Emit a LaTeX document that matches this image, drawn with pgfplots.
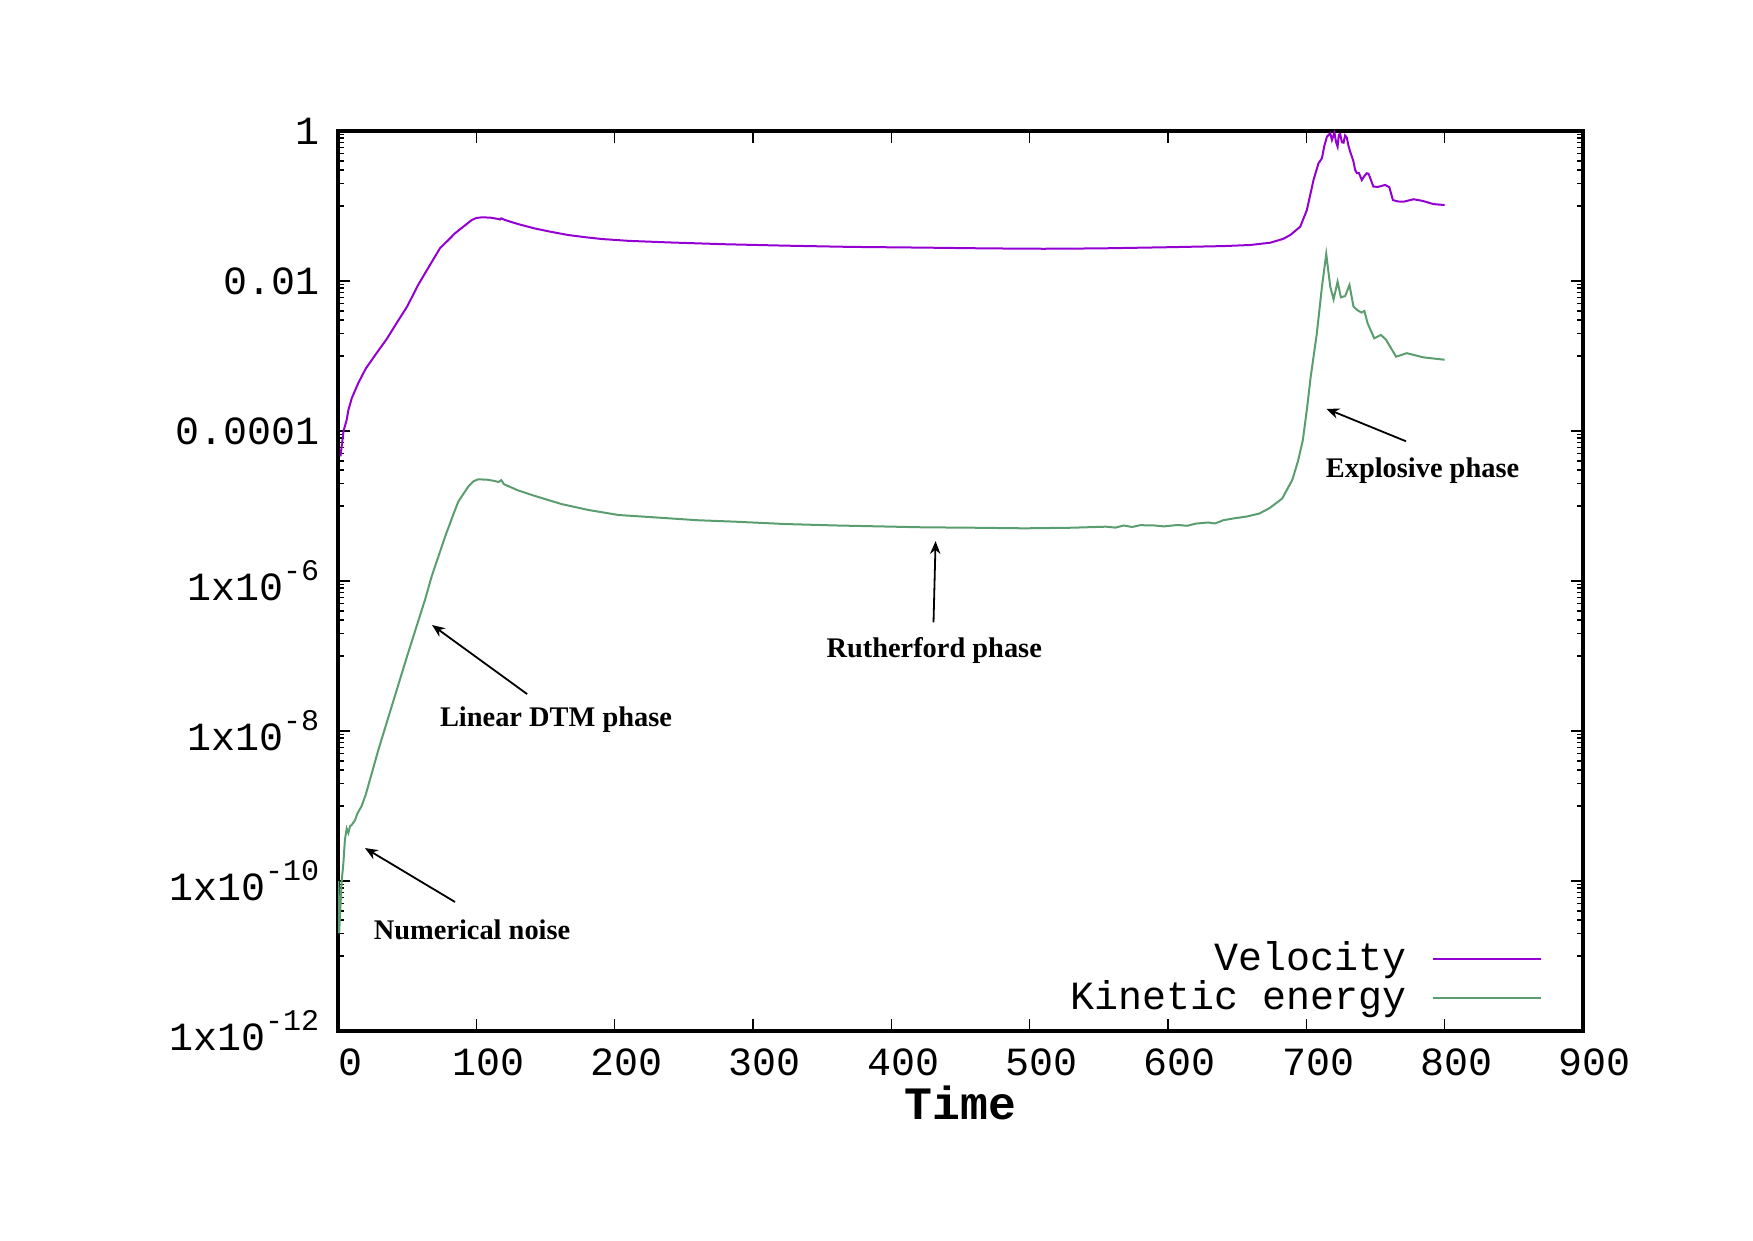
\documentclass[border=0pt]{standalone}
\usepackage{pgfplots}
\pgfplotsset{compat=1.18}
\usepackage{fontspec}
\setmainfont{Liberation Serif}
\newfontfamily\monofont{Liberation Mono}
\usetikzlibrary{arrows.meta}
\definecolor{velc}{HTML}{9400D3}
\definecolor{kinc}{HTML}{5A9E70}
\newcommand\ex[1]{\raisebox{5pt}{\fontsize{7.5}{7.5}\selectfont #1}}
\begin{document}
\begin{tikzpicture}
\useasboundingbox (0,0) rectangle (438.25pt,310pt);
\begin{axis}[
  at={(84.5pt,52.25pt)}, anchor=south west,
  scale only axis, width=311.25pt, height=225pt,
  xmin=0, xmax=900, ymode=log, ymin=1e-12, ymax=1,
  xtick={0,100,200,300,400,500,600,700,800,900},
  xticklabels={0,100,200,300,400,500,600,700,800,900},
  ytick={1e-12,1e-10,1e-8,1e-6,1e-4,1e-2,1},
  yticklabels={{1x10\ex{-12}},{1x10\ex{-10}},{1x10\ex{-8}},{1x10\ex{-6}},{0.0001},{0.01},{1}},
  minor ytick={1e-11,2e-11,3e-11,4e-11,5e-11,6e-11,7e-11,8e-11,9e-11,
               1e-9,2e-9,3e-9,4e-9,5e-9,6e-9,7e-9,8e-9,9e-9,
               1e-7,2e-7,3e-7,4e-7,5e-7,6e-7,7e-7,8e-7,9e-7,
               1e-5,2e-5,3e-5,4e-5,5e-5,6e-5,7e-5,8e-5,9e-5,
               1e-3,2e-3,3e-3,4e-3,5e-3,6e-3,7e-3,8e-3,9e-3,
               0.1,0.2,0.3,0.4,0.5,0.6,0.7,0.8,0.9},
  axis line style={line width=1pt},
  major tick length=3pt, minor tick length=1.5pt,
  every tick/.style={black, line width=0.4pt},
  ticklabel style={font=\monofont\fontsize{10}{12}\selectfont, inner sep=0pt},
  xticklabel style={anchor=north, yshift=-4.25pt, xshift=3pt},
  yticklabel style={anchor=east, xshift=-4.5pt},
  xlabel={Time},
  xlabel style={font=\monofont\bfseries\fontsize{11.6}{13}\selectfont, at={(axis description cs:0.5,0)}, anchor=center, yshift=-18pt},
  legend style={at={(axis description cs:1,0)}, anchor=south east, xshift=-10.1pt, yshift=1.75pt,
    draw=none, fill=none, font=\monofont\fontsize{10}{12}\selectfont,
    row sep=-3pt, column sep=4.2pt, inner sep=0pt},
  legend cell align=right, legend plot pos=right,
  legend image code/.code={\draw[#1, line width=0.5pt] (0pt,0pt) -- (27pt,0pt);},
]
\addplot[velc, line width=0.5pt] coordinates {
(1.8,4.6e-5) (4,1.0e-4) (6.3,1.41e-4) (7.5,1.9e-4) (10,2.75e-4) (14.7,4.37e-4) (20,6.76e-4) (28,1.1e-3) (35,1.66e-3) (42.4,2.75e-3) (50,4.57e-3) (58,8.9e-3) (66,1.58e-2) (73.8,2.75e-2) (80,3.55e-2) (84.6,4.33e-2) (90.6,5.3e-2) (96.7,6.5e-2) (100,6.92e-2) (103.9,7.06e-2) (110,7.0e-2) (115,6.76e-2) (117.1,6.61e-2) (118,6.84e-2) (120.8,6.5e-2) (130,5.75e-2) (142.4,5.01e-2) (153.3,4.55e-2) (166.5,4.1e-2) (178,3.85e-2) (190.6,3.63e-2) (210,3.43e-2) (238.8,3.27e-2) (280,3.09e-2) (323.2,2.96e-2) (370,2.85e-2) (420,2.79e-2) (470,2.72e-2) (510,2.69e-2) (550,2.72e-2) (600,2.82e-2) (640,2.92e-2) (659.4,3.02e-2) (673.9,3.24e-2) (683,3.63e-2) (688.4,4.1e-2) (695.6,5.3e-2) (700.4,8.85e-2) (705.2,0.222) (708.8,0.371) (711.3,0.433) (713,0.631) (714.9,0.839) (717.3,0.931) (718.5,0.759) (720.3,0.955) (721.5,0.708) (722.6,0.618) (723.5,0.891) (724.5,0.912) (725.7,0.708) (726.9,0.698) (728,0.871) (729.3,0.813) (730.5,0.631) (731.7,0.53) (734,0.398) (735.3,0.302) (736.5,0.275) (738,0.275) (740.1,0.222) (742,0.251) (743.7,0.273) (745,0.269) (748.5,0.181) (752,0.18) (757,0.191) (760,0.178) (762.6,0.12) (766,0.115) (770.3,0.114) (777.5,0.123) (784,0.117) (791.9,0.106) (800,0.103)
};
\addlegendentry{Velocity}
\addplot[kinc, line width=0.5pt] coordinates {
(0.3,1.0e-10) (0.8,2.0e-11) (1.5,3.72e-11) (2.7,1.0e-10) (3.9,1.74e-10) (5,3.55e-10) (6.3,5.01e-10) (7.5,4.37e-10) (8.7,5.37e-10) (10,5.62e-10) (12.3,6.46e-10) (14,7.94e-10) (17.1,1.0e-9) (20,1.41e-9) (23.1,2.24e-9) (29.2,5.62e-9) (40,2.51e-8) (50,1.0e-7) (62.9,5.62e-7) (67.7,1.15e-6) (77.4,3.89e-6) (83,7.41e-6) (87,1.15e-5) (94.2,1.82e-5) (98,2.14e-5) (101.4,2.27e-5) (108,2.24e-5) (113,2.16e-5) (116,2.09e-5) (118,2.21e-5) (120,1.95e-5) (130,1.62e-5) (142.4,1.36e-5) (161.7,1.06e-5) (181,8.85e-6) (202.7,7.59e-6) (238.8,6.86e-6) (260,6.46e-6) (287,6.18e-6) (323.2,5.75e-6) (360,5.5e-6) (422.5,5.2e-6) (460,5.13e-6) (496.4,5.04e-6) (530,5.13e-6) (555.3,5.3e-6) (562,5.15e-6) (568,5.5e-6) (574,5.25e-6) (580,5.55e-6) (590,5.5e-6) (597,5.35e-6) (607,5.58e-6) (614,5.45e-6) (620,5.82e-6) (629,6.03e-6) (634,5.85e-6) (640,6.46e-6) (647.6,6.84e-6) (657,7.24e-6) (666,7.94e-6) (673.3,9.33e-6) (682.6,1.26e-5) (689.9,2.24e-5) (694,3.98e-5) (697.5,7.59e-5) (700.5,2.0e-4) (703,5.01e-4) (707.6,2.0e-3) (711.3,8.39e-3) (714.4,2.29e-2) (717.3,8.39e-3) (719.7,5.69e-3) (722.6,9.79e-3) (725,6.05e-3) (728.1,6.31e-3) (731.2,8.85e-3) (734.1,4.55e-3) (737,4.07e-3) (739.9,3.8e-3) (742,3.98e-3) (744.3,2.73e-3) (749.1,1.72e-3) (753.9,1.91e-3) (757.5,1.66e-3) (764.9,9.79e-4) (772.6,1.09e-3) (784.7,9.59e-4) (800,8.91e-4)
};
\addlegendentry{Kinetic energy}
\begin{scope}[font=\bfseries\fontsize{7.1}{8}\selectfont]
\node at (axis cs:157.6,1.4e-8) {Linear DTM phase};
\draw[line width=0.45pt, -{Stealth[length=3.2pt,width=2.6pt]}] (axis cs:136.7,3.11e-8) -- (axis cs:68,2.59e-7);
\node at (axis cs:96.9,2.22e-11) {Numerical noise};
\draw[line width=0.45pt, -{Stealth[length=3.2pt,width=2.6pt]}] (axis cs:84.6,5.25e-11) -- (axis cs:19.5,2.75e-10);
\node at (axis cs:431,1.17e-7) {Rutherford phase};
\draw[line width=0.45pt, -{Stealth[length=3.2pt,width=2.6pt]}] (axis cs:430.5,2.8e-7) -- (axis cs:432,3.4e-6);
\node at (axis cs:784,2.95e-5) {Explosive phase};
\draw[line width=0.45pt, -{Stealth[length=3.2pt,width=2.6pt]}] (axis cs:772,7.3e-5) -- (axis cs:714.5,1.98e-4);
\end{scope}
\end{axis}
\end{tikzpicture}
\end{document}
